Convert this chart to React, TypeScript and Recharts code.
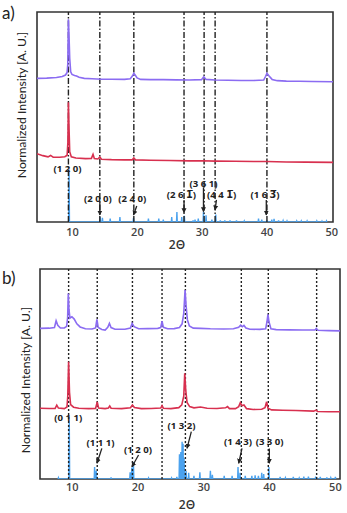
import React from 'react';
import { ComposedChart, Line, XAxis, YAxis, ReferenceLine, ReferenceArea, ReferenceDot } from 'recharts';

const FONT = 'Lato, "Open Sans", sans-serif';
const BOLD_FONT = '"Open Sans", "DejaVu Sans", sans-serif';
const PURPLE = '#8b6cf2';
const RED = '#d8304f';
const BLUE = '#4ba2ee';
const INK = '#222';

const xTicks = [10, 20, 30, 40, 50];
const yTitle = 'Normalized Intensity [A. U.]';
const xTitle = '2Θ';

// ---------- panel a ----------
const aXDomain: [number, number] = [4.5, 50.2];
const aYDomain: [number, number] = [0, 100];
const aPurple: [number, number][] = [
  [4.5, 68.4], [6, 68.5], [7.5, 68.8], [8.4, 69.3], [8.9, 70.0], [9.15, 71.2], [9.25, 75], [9.35, 96.5], [9.45, 88],
  [9.55, 78], [9.7, 71.5], [9.9, 70.3], [10.3, 69.8], [10.6, 69.5], [11.0, 68.9], [11.8, 68.4], [13, 68.2], [14.5, 68.0],
  [16, 68.0], [18, 67.9], [18.9, 68.2], [19.25, 69.6], [19.45, 70.8], [19.65, 70.0], [19.95, 68.6], [20.5, 67.9], [22, 67.8],
  [24, 67.8], [26, 67.7], [28, 67.6], [29.9, 67.8], [30.25, 69.2], [30.6, 67.9], [32, 67.6], [34, 67.5], [36, 67.4],
  [38, 67.4], [39.5, 67.6], [39.8, 69.4], [40.0, 70.8], [40.3, 69.6], [40.8, 67.9], [41.6, 67.3], [43, 67.1], [45, 67.0],
  [47, 66.9], [50.2, 66.8],
];
const aRed: [number, number][] = [
  [4.5, 32.5], [5.4, 31.6], [6.2, 31.0], [6.6, 31.7], [7.0, 30.9], [8.0, 30.8], [8.8, 31.1], [9.15, 31.8], [9.27, 38],
  [9.35, 57], [9.45, 44], [9.55, 33.5], [9.8, 31.0], [10.5, 30.5], [12.0, 30.2], [12.9, 30.3], [13.15, 32.2], [13.35, 30.2],
  [13.9, 30.0], [14.2, 31.0], [14.45, 29.9], [16, 29.7], [18, 29.6], [19.2, 29.6], [19.45, 30.5], [19.7, 29.6], [22, 29.4],
  [25, 29.3], [28, 29.1], [30, 29.2], [32, 29.0], [35, 28.9], [38, 28.8], [40, 28.8], [43, 28.6], [46, 28.5], [50.2, 28.4],
];
const aSticks: [number, number][] = [
  [9.45, 25], [14.25, 2.4], [14.6, 2.0], [15.8, 1.6], [17.3, 2.4], [19.4, 2.0], [21.7, 1.6], [23.3, 1.6], [24.0, 1.1],
  [25.3, 2.4], [26.1, 4.8], [26.85, 2.4], [27.25, 3.0], [28.6, 0.8], [28.9, 1.1], [29.4, 1.6], [30.2, 4.8], [30.6, 3.2],
  [31.5, 1.1], [32.1, 3.5], [32.8, 0.8], [33.5, 0.8], [34.3, 0.8], [35.3, 0.8], [36.5, 0.5], [38.7, 1.6], [39.2, 1.1],
  [40.0, 0.8], [40.75, 1.1], [41.1, 1.5], [41.8, 0.8], [42.5, 0.6], [43.1, 0.5], [44.6, 0.5], [45.3, 0.5], [46.2, 0.5],
  [47.7, 0.5], [48.5, 0.4], [49.2, 0.5],
];
const aRefLines = [9.35, 14.2, 19.45, 27.2, 30.3, 32.0, 40.0];
const aLabels = [
  { text: '(1 2 0)', x: 9.2, y: 25.6 },
  { text: '(2 0 0)', x: 13.9, y: 11.3 },
  { text: '(2 4 0)', x: 19.2, y: 11.3 },
  { text: '(2 6 1\u0305)', x: 26.8, y: 12.9 },
  { text: '(3 6 1)', x: 30.2, y: 18.4 },
  { text: '(4 4 1\u0305)', x: 33.0, y: 13.2 },
  { text: '(1 6 3\u0305)', x: 39.7, y: 13.2 },
];
const aArrows = [
  { x1: 14.2, y1: 9.7, x2: 14.2, y2: 3.3 },
  { x1: 19.9, y1: 7.6, x2: 19.4, y2: 3.3 },
  { x1: 27.2, y1: 10.5, x2: 27.2, y2: 4.4 },
  { x1: 30.2, y1: 16.5, x2: 30.2, y2: 4.9 },
  { x1: 32.2, y1: 10.5, x2: 32.0, y2: 5.7 },
  { x1: 39.9, y1: 10.5, x2: 39.9, y2: 3.3 },
];

// ---------- panel b ----------
const bXDomain: [number, number] = [5.1, 50.7];
const bYDomain: [number, number] = [0, 101.5];
const bPurple: [number, number][] = [
  [5.1, 72.8], [6.5, 72.9], [7.3, 73.2], [7.55, 76.5], [7.8, 74.3], [8.2, 73.0], [8.8, 73.0], [9.15, 73.8], [9.3, 78],
  [9.4, 89.7], [9.5, 82], [9.65, 77.8], [9.95, 78.4], [10.3, 77.3], [10.7, 75], [11.2, 73.5], [12, 72.6], [13, 72.5],
  [13.55, 73], [13.75, 77.1], [13.95, 73.2], [14.5, 72.3], [15, 72.0], [15.4, 73.3], [15.65, 75.2], [15.9, 73.2],
  [16.5, 72.4], [18, 72.4], [18.85, 73], [19.1, 75.2], [19.4, 73.6], [20.1, 72.6], [21.5, 72.7], [23.0, 72.8],
  [23.45, 73.2], [23.65, 76.3], [23.85, 73.3], [24.5, 72.6], [25.5, 72.7], [26.3, 73.2], [26.7, 75], [26.95, 80],
  [27.15, 91.3], [27.3, 84], [27.5, 77], [27.8, 74], [28.4, 72.9], [29.5, 72.8], [31, 72.6], [33, 72.5], [34.5, 72.6],
  [35.3, 73.3], [35.6, 74.4], [35.85, 73.6], [36.1, 74.2], [36.4, 73.0], [37, 72.4], [38.5, 72.3], [39.4, 72.6],
  [39.6, 76], [39.75, 79.6], [39.9, 76], [40.2, 72.6], [41, 72.2], [43, 72.1], [45, 72.0], [46.9, 72.0], [47.1, 72.8],
  [47.35, 71.9], [49, 71.7], [50.7, 71.6],
];
const bRed: [number, number][] = [
  [5.1, 34.2], [6.5, 34.1], [7.4, 34.1], [7.65, 35.7], [7.9, 34.3], [8.8, 34.0], [9.2, 34.8], [9.32, 40], [9.45, 56.7],
  [9.58, 42], [9.75, 36], [10.2, 34.7], [11, 34.2], [12.5, 34.0], [13.55, 34.1], [13.8, 37.3], [14.0, 34.3], [15, 34.0],
  [15.5, 34.3], [15.7, 35.3], [15.9, 34.2], [17.5, 34.0], [18.85, 34.4], [19.15, 35.7], [19.45, 34.5], [20.5, 34.0],
  [22, 34.1], [23.45, 34.3], [23.65, 35.4], [23.85, 34.2], [25, 34.0], [26.2, 34.5], [26.65, 35.8], [26.95, 40],
  [27.1, 51.1], [27.25, 43], [27.45, 37], [27.85, 35], [28.5, 34.4], [29.5, 34.8], [30.5, 34.2], [32, 34.1], [33.3, 34.4],
  [33.6, 35.0], [33.9, 34.0], [34.8, 34.0], [35.3, 35], [35.55, 36.9], [35.8, 35.4], [36.1, 35.8], [36.5, 34.0],
  [37.5, 33.6], [38.8, 33.7], [39.3, 34.5], [39.55, 37.3], [39.75, 34.2], [40.3, 33.4], [42, 33.2], [44, 33.1],
  [46.7, 32.8], [47.05, 33.3], [47.3, 32.6], [49, 32.5], [50.7, 32.5],
];
const bSticks: [number, number][] = [
  [7.9, 0.6], [9.55, 28], [13.4, 5.8], [13.65, 4], [15.9, 0.8], [18.8, 3.2], [19.05, 5.6], [19.3, 8.2], [21.6, 0.5],
  [25.1, 0.5], [25.9, 1], [26.3, 12], [26.5, 13], [26.7, 18], [26.85, 17], [27.0, 10], [27.3, 4], [27.7, 3], [28.5, 1.5],
  [29.4, 3.2], [31.0, 4], [31.3, 2], [33.1, 1.5], [34.3, 1.5], [35.2, 5.8], [35.5, 3], [36.3, 1.5], [37.3, 1.5],
  [37.8, 1.8], [38.3, 1.5], [38.8, 3], [39.1, 2.4], [39.9, 5.8], [41.6, 1], [42.4, 0.6], [43.6, 1], [44.5, 0.5],
  [45.2, 1.2], [45.9, 1.2], [47.0, 1.2], [47.7, 1], [48.7, 0.8], [49.3, 0.6], [50.0, 1],
];
const bRefLines = [9.45, 13.8, 19.15, 23.65, 27.2, 35.7, 39.8, 47.15];
const bLabels = [
  { text: '(0 1 1)', x: 9.4, y: 29.5 },
  { text: '(1 1 1)', x: 14.3, y: 17.5 },
  { text: '(1 2 0)', x: 20.0, y: 14.3 },
  { text: '(1 3 2)', x: 26.6, y: 26 },
  { text: '(1 4 3)', x: 35.2, y: 18 },
  { text: '(3 3 0)', x: 40.0, y: 18 },
];
const bArrows = [
  { x1: 14.5, y1: 14.8, x2: 13.76, y2: 7.6 },
  { x1: 20.08, y1: 11.6, x2: 19.08, y2: 5.9 },
  { x1: 28.1, y1: 22.9, x2: 27.45, y2: 14.8 },
  { x1: 35.8, y1: 14.8, x2: 35.3, y2: 7.6 },
  { x1: 39.96, y1: 14.8, x2: 39.96, y2: 7.6 },
];

const toPts = (arr: [number, number][]) => arr.map(([x, y]) => ({ x, y }));
const toSticks = (arr: [number, number][]) =>
  arr.flatMap(([x, h]) => [{ x: x - 0.06, y: 0 }, { x, y: h }, { x: x + 0.06, y: 0 }]);

type PanelProps = {
  tag: string;
  tagY: number;
  height: number;
  margin: { top: number; right: number; bottom: number; left: number };
  xDomain: [number, number];
  yDomain: [number, number];
  purple: [number, number][];
  red: [number, number][];
  sticks: [number, number][];
  refLines: number[];
  dash: string;
  labels: { text: string; x: number; y: number }[];
  arrows: { x1: number; y1: number; x2: number; y2: number }[];
  markerId: string;
  axisHeight: number;
  tickMargin: number;
  titleOffset: number;
  titleDx: number;
  yLabelX: number;
  yLabelY: number;
};

function Panel(p: PanelProps) {
  return (
    <ComposedChart width={347} height={p.height} margin={p.margin}>
      <defs>
        <marker id={p.markerId} viewBox="0 0 10 10" refX="9" refY="5" markerWidth="5" markerHeight="6"
          markerUnits="userSpaceOnUse" orient="auto">
          <path d="M0,0 L10,5 L0,10 z" fill={INK} />
        </marker>
      </defs>
      <XAxis type="number" dataKey="x" domain={p.xDomain} ticks={xTicks} allowDataOverflow
        tickLine={false} axisLine={false} tickSize={0} tickMargin={p.tickMargin} height={p.axisHeight}
        tick={{ fontSize: 11, fill: '#444', fontFamily: BOLD_FONT, fontWeight: 600 }}
        label={{ value: xTitle, position: 'insideBottom', offset: p.titleOffset, dx: p.titleDx, fontSize: 12, fill: '#333', fontFamily: BOLD_FONT, fontWeight: 600 }} />
      <YAxis type="number" domain={p.yDomain} hide allowDataOverflow />
      <ReferenceArea x1={p.xDomain[0]} x2={p.xDomain[1]} y1={p.yDomain[0]} y2={p.yDomain[1]}
        fill="none" fillOpacity={0} stroke="#333" strokeWidth={1.6} />
      <Line data={toSticks(p.sticks)} dataKey="y" stroke={BLUE} strokeWidth={1.4} dot={false} isAnimationActive={false} />
      {p.refLines.map((v) => (
        <ReferenceLine key={v} x={v} stroke={INK} strokeWidth={1.4} strokeDasharray={p.dash} />
      ))}
      <Line data={toPts(p.red)} dataKey="y" stroke={RED} strokeWidth={1.6} dot={false} isAnimationActive={false} />
      <Line data={toPts(p.purple)} dataKey="y" stroke={PURPLE} strokeWidth={1.6} dot={false} isAnimationActive={false} />
      {p.arrows.map((a, i) => (
        <ReferenceLine key={'ar' + i} segment={[{ x: a.x1, y: a.y1 }, { x: a.x2, y: a.y2 }]} stroke={INK}
          strokeWidth={1.3} markerEnd={`url(#${p.markerId})`} />
      ))}
      {p.labels.map((l, i) => (
        <ReferenceDot key={'lb' + i} x={l.x} y={l.y} r={0} fill="none" stroke="none"
          label={{ value: l.text, position: 'center', fontSize: 9.6, fontWeight: 700, fill: INK, fontFamily: BOLD_FONT }} />
      ))}
      <text x={p.yLabelX} y={p.yLabelY} transform={`rotate(-90 ${p.yLabelX} ${p.yLabelY})`} textAnchor="middle"
        dominantBaseline="central" fontSize={12.2} fontFamily={FONT} fill={INK}>{yTitle}</text>
      <text x={2} y={p.tagY} fontSize={17} fontFamily={FONT} fill={INK}>{p.tag}</text>
    </ComposedChart>
  );
}

export default function App() {
  return (
    <div style={{ position: 'absolute', left: 0, top: 0, width: 347, height: 513, background: '#fff' }}>
      <Panel tag="a)" tagY={19} height={256} margin={{ top: 12, right: 14, bottom: 4, left: 37 }}
        xDomain={aXDomain} yDomain={aYDomain} purple={aPurple} red={aRed} sticks={aSticks}
        refLines={aRefLines} dash="6 2 1.5 2" labels={aLabels} arrows={aArrows} markerId="arrA"
        axisHeight={30} tickMargin={6} titleOffset={3} titleDx={-8} yLabelX={21} yLabelY={105} />
      <Panel tag="b)" tagY={28} height={257} margin={{ top: 13, right: 7, bottom: 2, left: 40 }}
        xDomain={bXDomain} yDomain={bYDomain} purple={bPurple} red={bRed} sticks={bSticks}
        refLines={bRefLines} dash="2 2" labels={bLabels} arrows={bArrows} markerId="arrB"
        axisHeight={32} tickMargin={4} titleOffset={2} titleDx={-3} yLabelX={25} yLabelY={124} />
    </div>
  );
}
